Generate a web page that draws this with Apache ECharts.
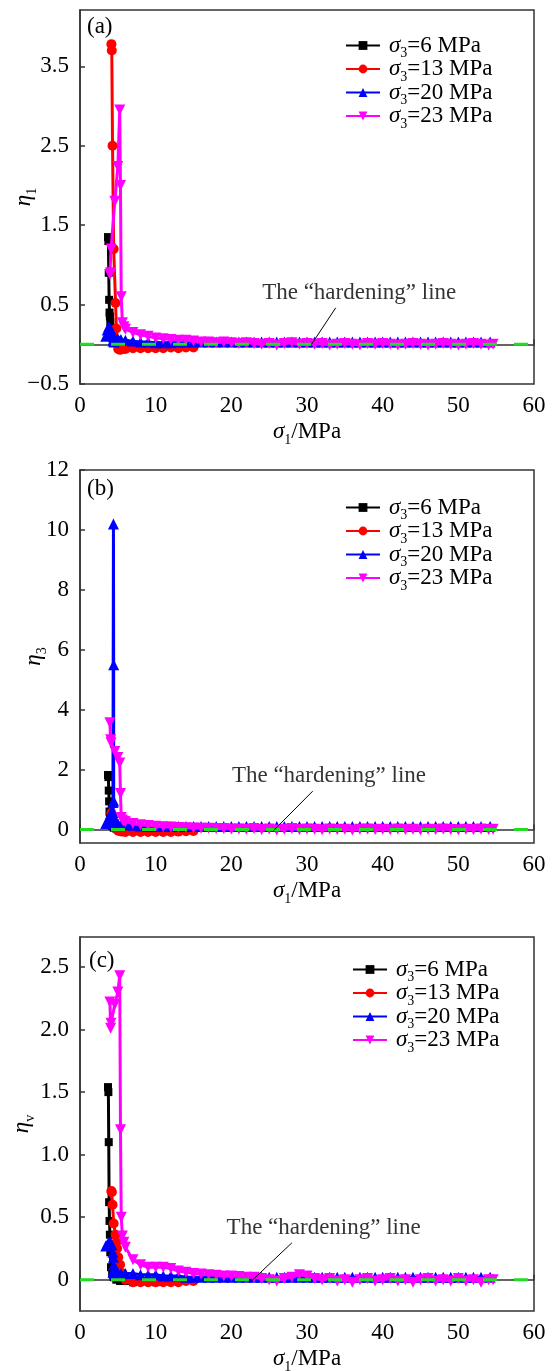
<!DOCTYPE html>
<html><head><meta charset="utf-8">
<script src="https://cdn.jsdelivr.net/npm/echarts@6/dist/echarts.min.js"></script>
<style>html,body{margin:0;padding:0;background:#fff}#c{width:552px;height:1371px}</style>
</head><body><div id="c"></div>
<script>
// ---------- data ----------
const seriesNames = ['σ3=6 MPa', 'σ3=13 MPa', 'σ3=20 MPa', 'σ3=23 MPa'];
const xTicks = [0, 10, 20, 30, 40, 50, 60];
const yTicksA = [-0.5, 0.5, 1.5, 2.5, 3.5];
const yTicksB = [0, 2, 4, 6, 8, 10, 12];
const yTicksC = [0, 0.5, 1.0, 1.5, 2.0, 2.5];
const hardeningY = 0;

// sigma1 values (MPa) per confining pressure
const x6 = [3.7, 3.75, 3.8, 3.85, 3.9, 3.95, 4.0, 4.1, 4.25, 4.45, 4.8, 5.3,
  6, 7, 8, 9, 10, 11, 12];
const x13 = [4.15, 4.2, 4.3, 4.45, 4.7, 4.8, 4.9, 5.05, 5.3, 5.6,
  6, 7, 8, 9, 10, 11, 12, 13, 14, 15];
const x20 = [3.4, 3.6, 3.8, 4.0, 4.2, 4.35, 4.42, 4.45, 4.45, 4.35, 4.5, 4.7, 5.0, 5.4,
  6, 7, 8, 9, 10, 11, 12, 13, 14, 15,
  16, 17, 18, 19, 20, 21, 22, 23, 24, 25,
  26, 27, 28, 29, 30, 31, 32, 33, 34, 35,
  36, 37, 38, 39, 40, 41, 42, 43, 44, 45,
  46, 47, 48, 49, 50, 51, 52, 53, 54.2];
const x23 = [3.95, 4.05, 4.1, 4.6, 5.0, 5.25, 5.35, 5.45, 5.6, 5.8,
  6, 7, 8, 9, 10, 11, 12, 13, 14, 15,
  16, 17, 18, 19, 20, 21, 22, 23, 24, 25,
  26, 27, 28, 29, 30, 31, 32, 33, 34, 35,
  36, 37, 38, 39, 40, 41, 42, 43, 44, 45,
  46, 47, 48, 49, 50, 51, 52, 53, 54, 54.6];

// (a) eta1
const eta1_6 = [1.35, 1.3, 0.9, 0.56, 0.4, 0.35, 0.28, 0.18, 0.1, 0.05, 0.02, 0.0,
  -0.01, -0.02, -0.02, -0.01, -0.01, -0.02, -0.01];
const eta1_13 = [3.78, 3.7, 2.5, 1.2, 0.52, 0.2, 0.05, -0.06, -0.07, -0.06,
  -0.06, -0.05, -0.05, -0.05, -0.05, -0.05, -0.04, -0.05, -0.04, -0.04];
const eta1_20 = [0.1, 0.18, 0.22, 0.2, 0.16, 0.12, 0.1, 0.08, 0.06, 0.04, 0.03, 0.05, 0.07, 0.06,
  0.05, 0.04, 0.03, 0.03, 0.02, 0.02, 0.02, 0.03, 0.03, 0.03,
  0.03, 0.03, 0.03, 0.03, 0.03, 0.03, 0.03, 0.03, 0.03, 0.03,
  0.03, 0.03, 0.03, 0.03, 0.03, 0.03, 0.03, 0.03, 0.03, 0.03,
  0.03, 0.03, 0.03, 0.03, 0.03, 0.03, 0.03, 0.03, 0.03, 0.03,
  0.03, 0.03, 0.03, 0.03, 0.03, 0.03, 0.03, 0.03, 0.03];
const eta1_23 = [0.88, 0.9, 1.2, 1.8, 2.24, 2.95, 2.0, 0.6, 0.27, 0.22,
  0.19, 0.15, 0.12, 0.1, 0.08, 0.07, 0.06, 0.05, 0.05, 0.04,
  0.03, 0.03, 0.02, 0.03, 0.02, 0.01, 0.02, 0.01, 0.0, 0.01,
  -0.01, 0.01, 0.02, 0.0, 0.01, 0.0, 0.01, -0.01, 0.0, 0.01,
  0.0, -0.01, 0.01, 0.0, 0.01, 0.0, -0.01, 0.0, 0.01, 0.0,
  -0.01, 0.0, 0.01, 0.0, -0.01, 0.0, 0.01, 0.0, -0.01, 0.0];

// (b) eta3
const eta3_6 = [1.82, 1.75, 1.3, 0.94, 0.6, 0.4, 0.3, 0.2, 0.12, 0.06, 0.03, 0.01,
  0.0, 0.0, -0.01, 0.0, 0.0, -0.01, 0.0];
const eta3_13 = [0.55, 0.5, 0.35, 0.2, 0.1, 0.04, 0.0, -0.04, -0.06, -0.07,
  -0.08, -0.08, -0.08, -0.08, -0.08, -0.08, -0.08, -0.07, -0.06, -0.05];
const eta3_20 = [0.2, 0.25, 0.35, 0.5, 0.6, 0.9, 10.2, 5.5, 0.95, 0.56, 0.35, 0.25, 0.2, 0.17,
  0.16, 0.14, 0.12, 0.11, 0.1, 0.1, 0.1, 0.1, 0.1, 0.1,
  0.1, 0.1, 0.1, 0.1, 0.1, 0.1, 0.1, 0.1, 0.1, 0.1,
  0.1, 0.1, 0.1, 0.1, 0.1, 0.1, 0.1, 0.1, 0.1, 0.1,
  0.1, 0.1, 0.1, 0.1, 0.1, 0.1, 0.1, 0.1, 0.1, 0.1,
  0.1, 0.1, 0.1, 0.1, 0.1, 0.1, 0.1, 0.1, 0.1];
const eta3_23 = [3.56, 3.0, 2.9, 2.6, 2.4, 2.22, 1.2, 0.4, 0.32, 0.28,
  0.26, 0.2, 0.16, 0.13, 0.11, 0.09, 0.08, 0.07, 0.06, 0.05,
  0.04, 0.04, 0.03, 0.03, 0.02, 0.02, 0.01, 0.03, 0.0, 0.02,
  -0.02, 0.01, 0.03, 0.0, 0.02, 0.01, -0.01, 0.02, 0.0, 0.01,
  -0.02, 0.01, 0.02, 0.0, 0.01, -0.01, 0.02, 0.0, 0.01, -0.02,
  0.01, 0.0, 0.02, 0.0, -0.01, 0.01, 0.0, 0.02, 0.0, 0.01];

// (c) etav
const etav_6 = [1.54, 1.5, 1.1, 0.62, 0.47, 0.36, 0.22, 0.1, 0.05, 0.02, 0.0, -0.01,
  -0.01, -0.02, -0.01, -0.01, -0.02, -0.01, -0.01];
const etav_13 = [0.71, 0.7, 0.6, 0.45, 0.36, 0.3, 0.25, 0.18, 0.12, 0.05,
  0.0, -0.02, -0.02, -0.02, -0.02, -0.02, -0.02, -0.02, -0.01, -0.01];
const etav_20 = [0.27, 0.28, 0.3, 0.3, 0.28, 0.22, 0.18, 0.12, 0.08, 0.06, 0.05, 0.05, 0.06, 0.05,
  0.05, 0.05, 0.04, 0.04, 0.04, 0.03, 0.03, 0.03, 0.02, 0.02,
  0.02, 0.02, 0.02, 0.02, 0.02, 0.02, 0.02, 0.02, 0.02, 0.02,
  0.02, 0.02, 0.02, 0.02, 0.02, 0.02, 0.02, 0.02, 0.02, 0.02,
  0.02, 0.02, 0.02, 0.02, 0.02, 0.02, 0.02, 0.02, 0.02, 0.02,
  0.02, 0.02, 0.02, 0.02, 0.02, 0.02, 0.02, 0.02, 0.02];
const etav_23 = [2.22, 2.01, 2.05, 2.2, 2.3, 2.43, 1.2, 0.5, 0.35, 0.3,
  0.26, 0.16, 0.12, 0.1, 0.1, 0.1, 0.09, 0.07, 0.06, 0.05,
  0.045, 0.04, 0.035, 0.03, 0.03, 0.025, 0.02, 0.02, 0.01, 0.0,
  -0.01, 0.01, 0.02, 0.04, 0.03, 0.01, 0.0, 0.01, -0.01, 0.0,
  -0.02, 0.0, 0.01, -0.01, 0.0, 0.01, -0.01, 0.0, -0.02, 0.0,
  0.01, -0.01, 0.0, -0.01, 0.01, -0.01, 0.0, -0.02, 0.0, 0.0];

// ---------- chart ----------
const FONT = 'Liberation Serif';
const xs = [x6, x13, x20, x23];
const colors = ['#000000', '#ff0000', '#0000ff', '#ff00ff'];
const symbols = ['rect', 'circle', 'triangle', 'triangle'];
const rotates = [0, 0, 0, 180];
const sizes = [8, 10, 11, 11];
const richSub = {
  i: { fontFamily: FONT, fontSize: 23, fontStyle: 'italic', color: '#000', lineHeight: 22 },
  s: { fontFamily: FONT, fontSize: 14, color: '#000', verticalAlign: 'top', lineHeight: 2, padding: [12, 0, 0, 0] },
  t: { fontFamily: FONT, fontSize: 23, color: '#000', lineHeight: 22 }
};

const panels = [
  { top: 10, height: 374, ymin: -0.5, ymax: 4.21, ticks: yTicksA,
    fmt: v => (v < 0 ? '\u2212' + Math.abs(v) : String(v)),
    yname: '{i|η}{s|1}', ynameGap: 45, ys: [eta1_6, eta1_13, eta1_20, eta1_23],
    tag: '(a)', tagLeft: 87, tagTop: 15, legendLeft: 345, legendTop: 34,
    annText: [36.9, 0.65], annLine: [[33.8, 0.46], [30.6, 0.0]] },
  { top: 470, height: 373, ymin: -0.45, ymax: 12, ticks: yTicksB,
    fmt: v => String(v),
    yname: '{i|η}{s|3}', ynameGap: 35, ys: [eta3_6, eta3_13, eta3_20, eta3_23],
    tag: '(b)', tagLeft: 87, tagTop: 477, legendLeft: 345, legendTop: 496,
    annText: [32.9, 1.78], annLine: [[30.75, 1.28], [25.6, -0.03]] },
  { top: 937, height: 374, ymin: -0.25, ymax: 2.74, ticks: yTicksC,
    fmt: v => (v === 0 ? '0' : v.toFixed(1)),
    yname: '{i|η}{s|v}', ynameGap: 47, ys: [etav_6, etav_13, etav_20, etav_23],
    tag: '(c)', tagLeft: 89, tagTop: 949, legendLeft: 352, legendTop: 958,
    annText: [32.2, 0.415], annLine: [[28.0, 0.295], [22.7, -0.008]] }
];

const option = {
  animation: false,
  backgroundColor: '#fff',
  title: [], legend: [], grid: [], xAxis: [], yAxis: [], series: []
};

panels.forEach((p, pi) => {
  option.grid.push({ left: 80, right: 18, top: p.top, height: p.height, show: true,
    containLabel: false, outerBoundsMode: 'none',
    borderColor: '#333', borderWidth: 1.5, backgroundColor: 'transparent' });
  option.title.push({ text: p.tag, left: p.tagLeft, top: p.tagTop, padding: 0,
    textStyle: { fontFamily: FONT, fontSize: 23, fontWeight: 'normal', color: '#000' } });
  option.legend.push({
    orient: 'vertical', left: p.legendLeft, top: p.legendTop, padding: 0,
    itemWidth: 34, itemHeight: 11, itemGap: -3, selectedMode: false,
    data: seriesNames,
    formatter: n => '{i|σ}{s|3}{t|' + n.slice(2) + '}',
    textStyle: { fontFamily: FONT, fontSize: 23, color: '#000', padding: [0, 0, 0, 4], rich: richSub }
  });
  option.xAxis.push({
    type: 'value', gridIndex: pi, min: xTicks[0], max: xTicks[xTicks.length - 1], interval: 10,
    axisLine: { show: true, lineStyle: { color: '#333', width: 1.5 } },
    axisTick: { inside: true, length: 5, lineStyle: { color: '#333', width: 1.5 } },
    axisLabel: { margin: 10, fontFamily: FONT, fontSize: 23, color: '#000' },
    splitLine: { show: false },
    name: '{i|σ}{s|1}{t|/MPa}', nameLocation: 'middle', nameGap: 37,
    nameTextStyle: { fontFamily: FONT, fontSize: 23, color: '#000', rich: richSub }
  });
  option.yAxis.push({
    type: 'value', gridIndex: pi, min: p.ymin, max: p.ymax,
    axisLine: { show: true, lineStyle: { color: '#333', width: 1.5 } },
    axisTick: { inside: true, length: 5, customValues: p.ticks, lineStyle: { color: '#333', width: 1.5 } },
    axisLabel: { customValues: p.ticks, formatter: p.fmt, margin: 11, fontFamily: FONT, fontSize: 23, color: '#000' },
    splitLine: { show: false },
    name: p.yname, nameLocation: 'middle', nameGap: p.ynameGap, nameRotate: 90, nameMoveOverlap: false,
    nameTextStyle: { fontFamily: FONT, fontSize: 23, color: '#000', rich: richSub }
  });
  p.ys.forEach((ys, si) => {
    option.series.push({
      type: 'line', name: seriesNames[si], xAxisIndex: pi, yAxisIndex: pi,
      data: xs[si].map((x, k) => [x, ys[k]]),
      symbol: symbols[si], symbolSize: sizes[si], symbolRotate: rotates[si], showAllSymbol: true,
      itemStyle: { color: colors[si] }, lineStyle: { color: colors[si], width: 3 },
      z: 2 + si, emphasis: { disabled: true }, silent: true
    });
  });
  option.series.push({
    type: 'line', name: 'hardening', xAxisIndex: pi, yAxisIndex: pi,
    data: [[0, hardeningY], [61.3, hardeningY]], symbol: 'none', clip: false,
    lineStyle: { color: '#22dd22', width: 3, type: [14, 17] }, z: 10, silent: true
  });
  option.series.push({
    type: 'line', name: 'pointer', xAxisIndex: pi, yAxisIndex: pi,
    data: p.annLine, symbol: 'none', lineStyle: { color: '#000', width: 1 }, z: 11, silent: true
  });
  option.series.push({
    type: 'scatter', name: 'annotation', xAxisIndex: pi, yAxisIndex: pi,
    data: [p.annText], symbolSize: 2, itemStyle: { color: 'rgba(0,0,0,0)' }, z: 12, silent: true,
    label: { show: true, position: 'inside', formatter: 'The \u201chardening\u201d line',
      fontFamily: FONT, fontSize: 23, color: '#000' }
  });
});

const chart = echarts.init(document.getElementById('c'), null, { renderer: 'canvas' });
chart.setOption(option);
</script>
</body></html>
